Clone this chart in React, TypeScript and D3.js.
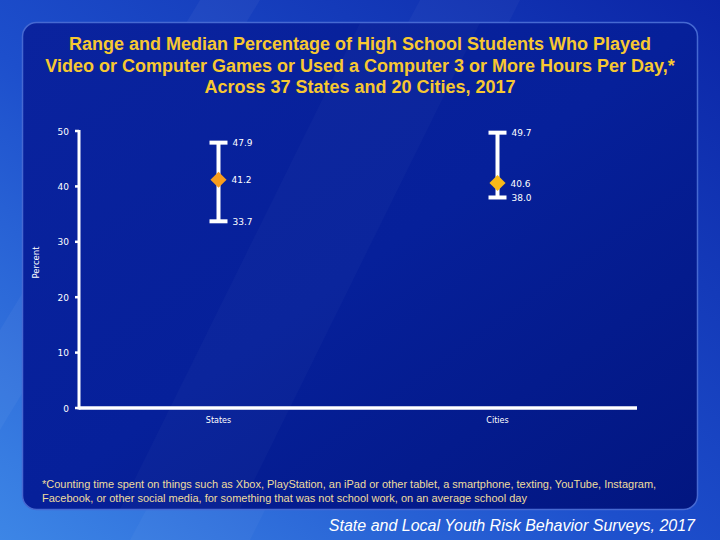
import React from 'react';
import * as d3 from 'd3';

// Range and median of the percentage, per jurisdiction type
const categories = ['States', 'Cities'];
const maxValues = [47.9, 49.7];
const medianValues = [41.2, 40.6];
const minValues = [33.7, 38.0];
const medianColors = ['#f99d1c', '#f8b918'];
const yTicks = [0, 10, 20, 30, 40, 50];

const titleLines = [
  'Range and Median Percentage of High School Students Who Played',
  'Video or Computer Games or Used a Computer 3 or More Hours Per Day,*',
  'Across 37 States and 20 Cities, 2017',
];
const footnoteLines = [
  '*Counting time spent on things such as Xbox, PlayStation, an iPad or other tablet, a smartphone, texting, YouTube, Instagram,',
  'Facebook, or other social media, for something that was not school work, on an average school day',
];
const source = 'State and Local Youth Risk Behavior Surveys, 2017';

const width = 720;
const height = 540;
const margin = { top: 131, right: 83, bottom: 132, left: 79 };

const App = () => {
  const x = d3
    .scaleBand<string>()
    .domain(categories)
    .range([margin.left, width - margin.right]);

  const y = d3
    .scaleLinear()
    .domain([0, 50])
    .range([height - margin.bottom, margin.top]);

  const capHalf = 9;
  const diamond = d3.symbol().type(d3.symbolDiamond2).size(165);

  return (
    <svg
      width={width}
      height={height}
      style={{ display: 'block', position: 'absolute', left: 0, top: 0 }}
    >
      <defs>
        <linearGradient id="bg" x1="0" y1="1" x2="1" y2="0">
          <stop offset="0" stopColor="#3d86e6" />
          <stop offset="0.45" stopColor="#1d4fcc" />
          <stop offset="1" stopColor="#0b25a6" />
        </linearGradient>
        <linearGradient id="panel" x1="0" y1="0" x2="1" y2="1">
          <stop offset="0" stopColor="#0a239e" />
          <stop offset="0.5" stopColor="#06209a" />
          <stop offset="1" stopColor="#021680" />
        </linearGradient>
      </defs>

      {/* page background */}
      <rect width={width} height={height} fill="url(#bg)" />
      <path d="M0,330 L200,0 L260,0 L0,430 Z" fill="#ffffff" opacity={0.04} />
      <path d="M420,0 L520,0 L250,540 L130,540 Z" fill="#ffffff" opacity={0.03} />

      {/* content panel */}
      <rect
        x={22.5}
        y={22.5}
        width={675}
        height={487}
        rx={14}
        fill="url(#panel)"
        stroke="#4669d2"
        strokeWidth={1.5}
      />
      <path d="M120,509 L360,23 L480,23 L240,509 Z" fill="#ffffff" opacity={0.025} />

      {/* title */}
      {titleLines.map((t, i) => (
        <text
          key={i}
          x={360}
          y={50 + i * 21.5}
          textAnchor="middle"
          fill="#f7c831"
          fontFamily="'Liberation Sans Narrow', 'Arial Narrow', 'Liberation Sans', Arial, sans-serif"
          fontWeight="bold"
          fontSize={18}
        >
          {t}
        </text>
      ))}

      {/* y axis */}
      <line
        x1={margin.left}
        x2={margin.left}
        y1={y(50) - 1}
        y2={y(0) + 1.5}
        stroke="#fff"
        strokeWidth={3}
      />
      {yTicks.map((t) => (
        <g key={t}>
          <line
            x1={margin.left - 4}
            x2={margin.left}
            y1={y(t)}
            y2={y(t)}
            stroke="#fff"
            strokeWidth={2.5}
          />
          <text
            x={margin.left - 10}
            y={y(t) + 3.5}
            textAnchor="end"
            fill="#fff"
            fontFamily="'DejaVu Sans', Verdana, sans-serif"
            fontSize={9}
          >
            {t}
          </text>
        </g>
      ))}
      <text
        transform={`translate(39,${(y(0) + y(50)) / 2 - 7}) rotate(-90)`}
        textAnchor="middle"
        fill="#fff"
        fontFamily="'DejaVu Sans', Verdana, sans-serif"
        fontSize={8.5}
      >
        Percent
      </text>

      {/* x axis */}
      <line
        x1={margin.left}
        x2={width - margin.right}
        y1={y(0)}
        y2={y(0)}
        stroke="#fff"
        strokeWidth={3.5}
      />
      {categories.map((c) => (
        <text
          key={c}
          x={(x(c) ?? 0) + x.bandwidth() / 2}
          y={y(0) + 15}
          textAnchor="middle"
          fill="#fff"
          fontFamily="'DejaVu Sans', Verdana, sans-serif"
          fontSize={8}
        >
          {c}
        </text>
      ))}

      {/* range bars with median diamonds */}
      {categories.map((c, i) => {
        const cx = (x(c) ?? 0) + x.bandwidth() / 2;
        const labelX = cx + capHalf + 5;
        const lab = {
          fill: '#fff',
          fontFamily: "'DejaVu Sans', Verdana, sans-serif",
          fontSize: 9,
        };
        return (
          <g key={c}>
            <line
              x1={cx}
              x2={cx}
              y1={y(maxValues[i])}
              y2={y(minValues[i])}
              stroke="#fff"
              strokeWidth={4}
            />
            <line
              x1={cx - capHalf}
              x2={cx + capHalf}
              y1={y(maxValues[i])}
              y2={y(maxValues[i])}
              stroke="#fff"
              strokeWidth={4}
            />
            <line
              x1={cx - capHalf}
              x2={cx + capHalf}
              y1={y(minValues[i])}
              y2={y(minValues[i])}
              stroke="#fff"
              strokeWidth={4}
            />
            <path
              d={diamond() ?? ''}
              transform={`translate(${cx},${y(medianValues[i])})`}
              fill={medianColors[i]}
            />
            <text x={labelX} y={y(maxValues[i]) + 3.5} {...lab}>
              {maxValues[i].toFixed(1)}
            </text>
            <text x={labelX - 1} y={y(medianValues[i]) + 3.5} {...lab}>
              {medianValues[i].toFixed(1)}
            </text>
            <text x={labelX} y={y(minValues[i]) + 3.5} {...lab}>
              {minValues[i].toFixed(1)}
            </text>
          </g>
        );
      })}

      {/* footnote */}
      {footnoteLines.map((t, i) => (
        <text
          key={i}
          x={42}
          y={488 + i * 13.5}
          fill="#eedc9e"
          fontFamily="'Liberation Sans', Arial, sans-serif"
          fontSize={11}
        >
          {t}
        </text>
      ))}

      {/* source */}
      <text
        x={695}
        y={531}
        textAnchor="end"
        fill="#fff"
        fontFamily="'Liberation Sans', Arial, sans-serif"
        fontStyle="italic"
        fontSize={16}
      >
        {source}
      </text>
    </svg>
  );
};

export default App;
